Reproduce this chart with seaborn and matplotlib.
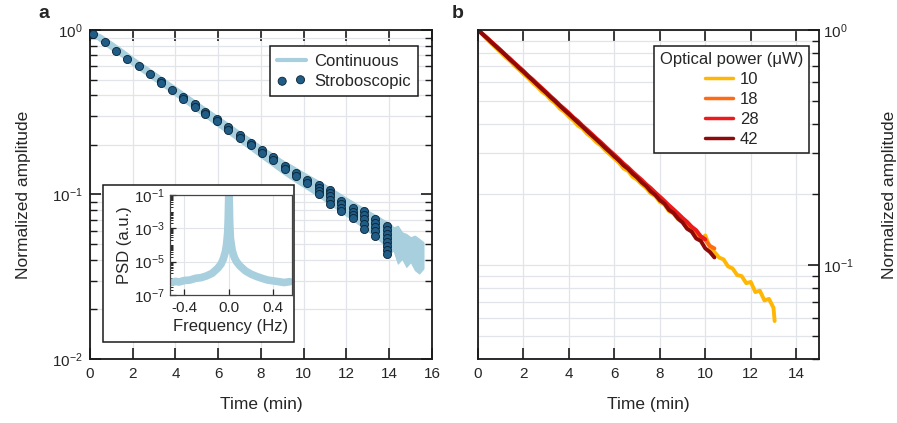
import numpy as np
import pandas as pd
import matplotlib
matplotlib.use("Agg")
import matplotlib.pyplot as plt
import seaborn as sns
from matplotlib.lines import Line2D
from matplotlib.patches import Rectangle
from matplotlib.ticker import LogLocator, NullFormatter

# ---------------- data: panel a ----------------
cont_t = [0, 0.5, 1, 1.5, 2, 2.5, 3, 3.5, 4, 4.5, 5, 5.5, 6, 6.5, 7, 7.5, 8, 8.5, 9, 9.5,
          10, 10.5, 11, 11.5, 12, 12.5, 13, 13.5, 13.8, 14.0, 14.2, 14.4, 14.6, 14.8, 15.0,
          15.2, 15.4, 15.6]
cont_hi = [1.0, 0.938, 0.849, 0.766, 0.684, 0.617, 0.557, 0.502, 0.452, 0.407, 0.366, 0.330,
           0.298, 0.269, 0.242, 0.219, 0.197, 0.179, 0.162, 0.149, 0.136, 0.125, 0.115, 0.105,
           0.0955, 0.0873, 0.0798, 0.0733, 0.0692, 0.0676, 0.0631, 0.0646, 0.0589, 0.0575,
           0.0550, 0.0562, 0.0537, 0.0513]
cont_lo = [0.955, 0.847, 0.760, 0.686, 0.610, 0.550, 0.494, 0.446, 0.399, 0.358, 0.321, 0.289,
           0.259, 0.233, 0.209, 0.188, 0.168, 0.151, 0.135, 0.122, 0.111, 0.101, 0.0912, 0.0824,
           0.0741, 0.0668, 0.0600, 0.0531, 0.0490, 0.0437, 0.0457, 0.0380, 0.0407, 0.0363,
           0.0389, 0.0347, 0.0331, 0.0355]

strobe_times = [0.14, 0.69, 1.23, 1.75, 2.28, 2.79, 3.31, 3.84, 4.37, 4.90, 5.40, 5.94, 6.47,
                7.00, 7.52, 8.03, 8.58, 9.11, 9.64, 10.17, 10.70, 11.23, 11.76, 12.29, 12.82,
                13.35, 13.88]
strobe_groups = [[0.946], [0.845], [0.750], [0.667], [0.600], [0.541], [0.490, 0.476], [0.433],
                 [0.394, 0.382], [0.353, 0.340], [0.316, 0.310], [0.287, 0.278], [0.256, 0.248],
                 [0.229, 0.221], [0.207, 0.200], [0.186, 0.178], [0.168, 0.162], [0.149, 0.143],
                 [0.135, 0.129], [0.122, 0.117], [0.115, 0.110, 0.105, 0.100],
                 [0.107, 0.102, 0.0977, 0.0923, 0.0871], [0.0912, 0.0871, 0.0832, 0.0794],
                 [0.0822, 0.0785, 0.0750, 0.0716], [0.0794, 0.0750, 0.0708, 0.0661, 0.0617],
                 [0.0708, 0.0668, 0.0631, 0.0596, 0.0562],
                 [0.0646, 0.0610, 0.0575, 0.0543, 0.0513, 0.0484, 0.0457, 0.0437]]

# inset PSD
psd_f = [-0.52, -0.48, -0.45, -0.40, -0.35, -0.30, -0.25, -0.20, -0.15, -0.10, -0.07, -0.05,
         -0.03, -0.02, -0.01, -0.005, 0.0, 0.003, 0.008, 0.015, 0.03, 0.05, 0.07, 0.10, 0.15,
         0.20, 0.25, 0.30, 0.35, 0.40, 0.45, 0.50, 0.55]
psd_v = [5.6e-7, 6.6e-7, 6.0e-7, 7.4e-7, 7.9e-7, 1.0e-6, 1.1e-6, 1.4e-6, 2.0e-6, 4.0e-6, 7.1e-6,
         1.4e-5, 4.0e-5, 1.0e-4, 5.0e-4, 3.2e-3, 0.1, 0.126, 2.5e-3, 2.5e-4, 5.0e-5, 1.8e-5,
         1.0e-5, 5.6e-6, 2.8e-6, 1.8e-6, 1.3e-6, 1.0e-6, 7.9e-7, 7.1e-7, 6.3e-7, 5.6e-7, 6.3e-7]

# ---------------- data: panel b ----------------
t_b = [0.0, 0.2, 0.4, 0.6, 0.8, 1.0, 1.2, 1.4, 1.6, 1.8, 2.0, 2.2, 2.4, 2.6, 2.8, 3.0, 3.2, 3.4,
       3.6, 3.8, 4.0, 4.2, 4.4, 4.6, 4.8, 5.0, 5.2, 5.4, 5.6, 5.8, 6.0, 6.2, 6.4, 6.6, 6.8, 7.0,
       7.2, 7.4, 7.6, 7.8, 8.0, 8.2, 8.4, 8.6, 8.8, 9.0, 9.2, 9.4, 9.6, 9.8, 10.0, 10.2, 10.4,
       10.6, 10.8, 11.0, 11.2, 11.4, 11.6, 11.8, 12.0, 12.2, 12.4, 12.6, 12.8, 13.0, 13.05]
amp_10 = [1.000, 0.955, 0.912, 0.874, 0.838, 0.803, 0.768, 0.740, 0.706, 0.679, 0.650, 0.626,
          0.597, 0.575, 0.548, 0.530, 0.505, 0.487, 0.463, 0.449, 0.428, 0.412, 0.392, 0.381,
          0.362, 0.350, 0.334, 0.323, 0.308, 0.296, 0.284, 0.273, 0.258, 0.252, 0.238, 0.231,
          0.221, 0.213, 0.202, 0.197, 0.186, 0.181, 0.170, 0.166, 0.157, 0.153, 0.144, 0.141,
          0.133, 0.128, 0.134, 0.119, 0.114, 0.108, 0.106, 0.099, 0.097, 0.091, 0.090, 0.084,
          0.085, 0.077, 0.078, 0.071, 0.072, 0.066, 0.058]
amp_18 = [1.000, 0.962, 0.925, 0.886, 0.852, 0.818, 0.785, 0.751, 0.722, 0.694, 0.665, 0.638,
          0.613, 0.588, 0.563, 0.541, 0.519, 0.498, 0.478, 0.458, 0.440, 0.423, 0.405, 0.390,
          0.373, 0.359, 0.344, 0.330, 0.317, 0.303, 0.291, 0.280, 0.267, 0.258, 0.246, 0.237,
          0.228, 0.218, 0.210, 0.200, 0.194, 0.184, 0.178, 0.169, 0.164, 0.156, 0.151, 0.143,
          0.139, 0.132, 0.128, 0.121, 0.118]
amp_28 = [1.000, 0.963, 0.926, 0.889, 0.855, 0.821, 0.787, 0.757, 0.725, 0.697, 0.670, 0.641,
          0.617, 0.591, 0.568, 0.545, 0.522, 0.502, 0.480, 0.462, 0.444, 0.425, 0.410, 0.392,
          0.377, 0.362, 0.347, 0.334, 0.320, 0.307, 0.295, 0.283, 0.271, 0.261, 0.250, 0.240,
          0.231, 0.221, 0.213, 0.204, 0.196, 0.188, 0.180, 0.173, 0.166, 0.159, 0.153, 0.146,
          0.141, 0.133, 0.129]
amp_42 = [1.000, 0.960, 0.922, 0.884, 0.849, 0.815, 0.783, 0.750, 0.721, 0.690, 0.664, 0.636,
          0.611, 0.586, 0.562, 0.540, 0.517, 0.497, 0.476, 0.457, 0.439, 0.421, 0.404, 0.388,
          0.372, 0.357, 0.343, 0.329, 0.315, 0.303, 0.290, 0.279, 0.266, 0.257, 0.245, 0.236,
          0.225, 0.217, 0.206, 0.199, 0.189, 0.183, 0.172, 0.167, 0.158, 0.152, 0.143, 0.139,
          0.130, 0.127, 0.118, 0.114, 0.108]
powers = ["10", "18", "28", "42"]
power_colors = {"10": "#FFB703", "18": "#FF6A13", "28": "#EE1A1A", "42": "#8E0A0A"}

# ---------------- style ----------------
sns.set_style("ticks")
plt.rcParams["font.family"] = ["Liberation Sans", "DejaVu Sans"]
plt.rcParams["mathtext.fontset"] = "custom"
plt.rcParams["mathtext.rm"] = "Liberation Sans"
plt.rcParams["mathtext.it"] = "Liberation Sans:italic"
plt.rcParams["axes.unicode_minus"] = False
plt.rcParams["axes.edgecolor"] = "#1a1a1a"
plt.rcParams["axes.linewidth"] = 1.3

LIGHT_BLUE = "#A7CFDD"
STROBE = "#1F5C86"
GRID = "#E1E4E8"

fig = plt.figure(figsize=(8.97, 4.23), dpi=100)
axa = fig.add_axes([0.1003, 0.1513, 0.3813, 0.7778])
axb = fig.add_axes([0.5329, 0.1513, 0.3801, 0.7778])


def style_log_axis(ax, left=True, right=True):
    ax.set_yscale("log")
    ax.yaxis.set_minor_locator(LogLocator(base=10, subs=np.arange(2, 10), numticks=50))
    ax.yaxis.set_minor_formatter(NullFormatter())
    ax.tick_params(axis="both", which="major", direction="in", length=8, width=1.2,
                   labelsize=11, color="#1a1a1a")
    ax.tick_params(axis="y", which="minor", direction="in", length=5, width=1.0,
                   color="#1a1a1a")
    ax.tick_params(axis="x", which="both", top=True, bottom=True, pad=6)
    ax.tick_params(axis="y", which="both", left=left, right=right)
    ax.grid(True, which="major", axis="x", color=GRID, lw=0.9)
    ax.grid(True, which="both", axis="y", color=GRID, lw=0.9)
    ax.set_axisbelow(True)


# ---------------- panel a ----------------
axa.fill_between(cont_t, cont_lo, cont_hi, color=LIGHT_BLUE, lw=0.8, edgecolor=LIGHT_BLUE,
                 zorder=2)
st_t = [t for t, g in zip(strobe_times, strobe_groups) for _ in g]
st_y = [v for g in strobe_groups for v in g]
sns.scatterplot(x=st_t, y=st_y, ax=axa, color=STROBE, edgecolor="#0A2233", linewidth=0.6,
                s=34, zorder=3, legend=False)
style_log_axis(axa)
axa.set_xlim(0, 16)
axa.set_ylim(0.01, 1)
axa.set_xticks(range(0, 17, 2))
axa.tick_params(axis="y", pad=5)
axa.set_xlabel("Time (min)", fontsize=12.5, labelpad=11)
axa.set_ylabel("Normalized amplitude", fontsize=12.5, labelpad=15)

h_cont = Line2D([], [], color=LIGHT_BLUE, lw=3)
h_strobe = axa.collections[-1]
leg = axa.legend([h_cont, h_strobe], ["Continuous", "Stroboscopic"], loc="upper right",
                 bbox_to_anchor=(0.959, 0.951), borderaxespad=0, frameon=True, fancybox=False,
                 framealpha=1, edgecolor="#1a1a1a", fontsize=12, handlelength=1.7,
                 scatterpoints=2, handletextpad=0.5, borderpad=0.45, labelspacing=0.3)
leg.get_frame().set_linewidth(1.1)

# inset box and inset axes
box = Rectangle((0.1148, 0.1915), 0.2129, 0.3712, transform=fig.transFigure,
                facecolor="white", edgecolor="#1a1a1a", lw=1.1, zorder=2)
fig.add_artist(box)
axin = fig.add_axes([0.1895, 0.3026, 0.136, 0.2364], zorder=3)
sns.lineplot(x=psd_f, y=psd_v, ax=axin, color=LIGHT_BLUE, lw=5.5, sort=False,
             estimator=None, solid_capstyle="round")
axin.set_yscale("log")
axin.set_ylim(1e-7, 1e-1)
axin.set_xlim(-0.53, 0.57)
axin.set_yticks([1e-7, 1e-5, 1e-3, 1e-1])
axin.yaxis.set_minor_locator(LogLocator(base=10, subs=np.arange(1, 10), numticks=100))
axin.yaxis.set_minor_formatter(NullFormatter())
axin.set_xticks([-0.4, 0.0, 0.4])
axin.set_xticklabels(["-0.4", "0.0", "0.4"])
axin.tick_params(axis="both", which="major", direction="in", length=4, width=0.9,
                 labelsize=11, pad=4)
axin.tick_params(axis="y", which="minor", direction="in", length=2.5, width=0.7)
axin.grid(True, which="major", color=GRID, lw=0.8)
axin.set_axisbelow(True)
for sp in axin.spines.values():
    sp.set_linewidth(0.9)
    sp.set_color("#444444")
axin.set_xlabel("Frequency (Hz)", fontsize=12, labelpad=3)
axin.set_ylabel("PSD (a.u.)", fontsize=12, labelpad=1)

# ---------------- panel b ----------------
series = {"10": amp_10, "18": amp_18, "28": amp_28, "42": amp_42}
rows = []
for p in powers:
    vals = series[p]
    for t, v in zip(t_b[:len(vals)], vals):
        rows.append({"time": t, "amp": v, "power": p})
df_b = pd.DataFrame(rows)
sns.lineplot(data=df_b, x="time", y="amp", hue="power", hue_order=powers,
             palette=power_colors, ax=axb, lw=2.8, sort=False, estimator=None, legend=False)
style_log_axis(axb, left=False, right=True)
axb.yaxis.tick_right()
axb.yaxis.set_label_position("right")
axb.tick_params(axis="y", which="both", left=False, right=True, pad=3)
axb.set_xlim(0, 15)
axb.set_ylim(0.04, 1)
axb.set_xticks(range(0, 15, 2))
axb.set_xlabel("Time (min)", fontsize=12.5, labelpad=11)
axb.set_ylabel("Normalized amplitude", fontsize=12.5, labelpad=20)

hb = [Line2D([], [], color=power_colors[p], lw=2.5) for p in powers]
legb = axb.legend(hb, powers, title="Optical power (\u03bcW)", loc="upper right",
                  bbox_to_anchor=(0.971, 0.951), borderaxespad=0, frameon=True,
                  fancybox=False, framealpha=1, edgecolor="#1a1a1a", fontsize=12,
                  title_fontsize=12, handlelength=1.7, handletextpad=0.4,
                  borderpad=0.35, labelspacing=0.3, alignment="center")
legb.get_frame().set_linewidth(1.1)

# panel labels
fig.text(38 / 897, 1 - 13 / 423, "a", fontsize=14, fontweight="bold", ha="left", va="center")
fig.text(452 / 897, 1 - 13 / 423, "b", fontsize=14, fontweight="bold", ha="left", va="center")

fig.savefig("out.png", dpi=100)
